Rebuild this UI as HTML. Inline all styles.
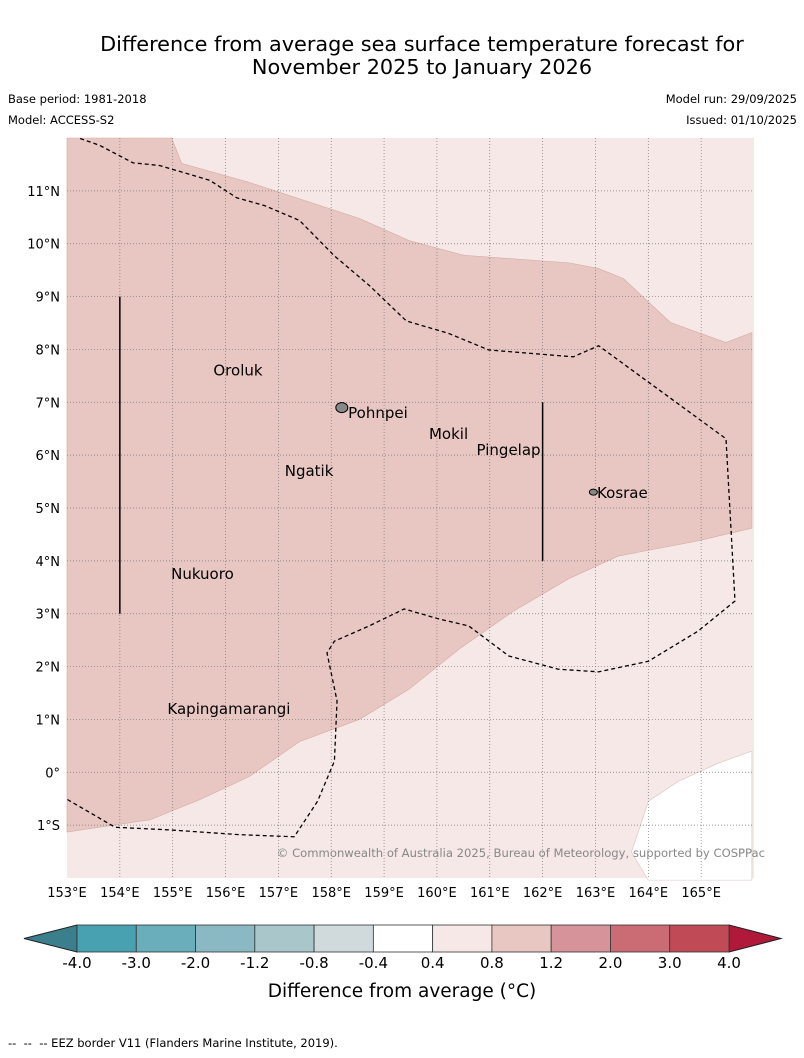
<!DOCTYPE html>
<html><head><meta charset="utf-8"><style>
body{margin:0;background:#fff;width:804px;height:1058px;overflow:hidden;font-family:"DejaVu Sans","Liberation Sans",sans-serif}
svg{position:absolute;left:0;top:0}
</style></head><body>
<svg id="s" width="804" height="1058">
<text x="422" y="51" text-anchor="middle" font-size="20.8">Difference from average sea surface temperature forecast for</text>
<text x="422" y="74" text-anchor="middle" font-size="20.8">November 2025 to January 2026</text>
<text x="8" y="103" font-size="11.5">Base period: 1981-2018</text>
<text x="8" y="124" font-size="11.5">Model: ACCESS-S2</text>
<text x="797" y="103" font-size="11.5" text-anchor="end">Model run: 29/09/2025</text>
<text x="797" y="124" font-size="11.5" text-anchor="end">Issued: 01/10/2025</text>
<g id="map"></g>
<g id="cb"></g>
<text x="402" y="997" text-anchor="middle" font-size="18.5">Difference from average (°C)</text>
<text x="8" y="1047" font-size="11.5" xml:space="preserve">--  --  -- EEZ border V11 (Flanders Marine Institute, 2019).</text>
</svg>
<script>
const lonTicks=[153,154,155,156,157,158,159,160,161,162,163,164,165];
const latTicks=[11,10,9,8,7,6,5,4,3,2,1,0,-1];
const latLabels=["11°N","10°N","9°N","8°N","7°N","6°N","5°N","4°N","3°N","2°N","1°N","0°","1°S"];
const band08Lon=[154.98,155.17,156.45,158.53,159.47,160.51,161.92,162.49,163.06,163.53,164.42,165.47,165.96,165.96,164.94,163.43,162.49,161.45,160.42,159.47,158.53,157.40,156.45,155.51,154.57,153.0,153.0];
const band08Lat=[12.0,11.52,11.16,10.48,10.06,9.78,9.68,9.64,9.53,9.34,8.51,8.13,8.32,4.62,4.38,4.09,3.66,3.05,2.33,1.57,1.00,0.58,-0.08,-0.52,-0.90,-1.13,12.0];
const whiteLon=[165.96,165.32,164.57,164.0,163.81,163.68,164.0,165.96];
const whiteLat=[0.40,0.17,-0.17,-0.55,-1.13,-1.51,-2.04,-2.04];
const eezLon=[153.25,153.62,154.25,154.75,155.70,156.21,156.74,157.40,158.06,158.72,159.42,160.23,160.98,162.58,163.06,165.47,165.64,164.94,164.0,163.06,162.30,161.36,160.60,160.04,159.38,158.72,158.06,157.92,158.11,158.06,157.74,157.30,156.26,154.94,153.91,153.0];
const eezLat=[11.99,11.86,11.53,11.48,11.20,10.87,10.72,10.44,9.77,9.21,8.54,8.30,7.99,7.86,8.07,6.31,3.24,2.67,2.10,1.90,1.95,2.20,2.77,2.90,3.09,2.77,2.48,2.26,1.35,0.21,-0.55,-1.22,-1.18,-1.09,-1.04,-0.51];
const places=["Oroluk","Pohnpei","Mokil","Ngatik","Pingelap","Kosrae","Nukuoro","Kapingamarangi"];
const placeLon=[155.77,158.32,159.85,157.12,160.75,163.03,154.97,154.9];
const placeLat=[7.6,6.8,6.4,5.7,6.1,5.28,3.75,1.2];
const cbLabels=["-4.0","-3.0","-2.0","-1.2","-0.8","-0.4","0.4","0.8","1.2","2.0","3.0","4.0"];
const cbColors=["#48a1b1","#6aaebc","#8bb9c3","#a9c6ca","#d0d9db","#ffffff","#f5e8e6","#e8c6c1","#d6939a","#cb6c75","#c04a56"];

const NS="http://www.w3.org/2000/svg";
const X0=67,X1=754,Y0=138,Y1=878,LON0=153,LON1=166,LAT0=12,LAT1=-2;
const px=l=>X0+(l-LON0)/(LON1-LON0)*(X1-X0);
const py=l=>Y0+(LAT0-l)/(LAT0-LAT1)*(Y1-Y0);
function mk(tag,attrs,parent){const e=document.createElementNS(NS,tag);for(const k in attrs)e.setAttribute(k,attrs[k]);parent.appendChild(e);return e;}
const map=document.getElementById('map');
const pts=(lo,la)=>lo.map((v,i)=>px(v)+','+py(la[i])).join(' ');
let bg=mk('rect',{x:X0,y:Y0,width:X1-X0,height:Y1-Y0,fill:'#f5e8e6'},map);


let b=mk('polygon',{points:pts(band08Lon,band08Lat),fill:'#e8c7c2',stroke:'#d4aaa4','stroke-width':0.6},map);


let w=mk('polygon',{points:pts(whiteLon,whiteLat),fill:'#fff',stroke:'#d8c4c1','stroke-width':0.6},map);


lonTicks.forEach(l=>{
  if(l>LON0){let g=mk('line',{x1:px(l),x2:px(l),y1:Y0,y2:Y1,stroke:'#777','stroke-width':0.7,'stroke-dasharray':'1,2'},map);
  
  }
  let t=mk('text',{x:px(l),y:897,'text-anchor':'middle','font-size':13},map);t.textContent=l+'°E';
  
  
});
latTicks.forEach((l,i)=>{
  let g=mk('line',{x1:X0,x2:X1,y1:py(l),y2:py(l),stroke:'#777','stroke-width':0.7,'stroke-dasharray':'1,2'},map);
  
  
  let t=mk('text',{x:60,y:py(l)+5,'text-anchor':'end','font-size':13},map);t.textContent=latLabels[i];
  
  
});
let e=mk('polyline',{points:pts(eezLon,eezLat),fill:'none',stroke:'#000','stroke-width':1.3,'stroke-dasharray':'4,3'},map);


[[154,9,3],[162,7,4]].forEach(v=>{let l=mk('line',{x1:px(v[0]),x2:px(v[0]),y1:py(v[1]),y2:py(v[2]),stroke:'#000','stroke-width':1.5},map);

});
[[158.2,6.9,5],[162.96,5.3,3]].forEach(v=>{let c=mk('ellipse',{cx:px(v[0]),cy:py(v[1]),rx:v[2]+1,ry:v[2],fill:'#888',stroke:'#000','stroke-width':1},map);

});
places.forEach((p,i)=>{let t=mk('text',{x:px(placeLon[i]),y:py(placeLat[i])+5,'font-size':15},map);t.textContent=p;

});
let c=mk('text',{x:765,y:857,'text-anchor':'end','font-size':11.6,fill:'#888'},map);c.textContent='© Commonwealth of Australia 2025, Bureau of Meteorology, supported by COSPPac';


const cb=document.getElementById('cb');
const CX0=77,CX1=729,CY=925,CH=27,bw=(CX1-CX0)/cbColors.length;
let lt=mk('polygon',{points:`24,${CY+CH/2} ${CX0},${CY} ${CX0},${CY+CH}`,fill:'#3a7f8b',stroke:'#222','stroke-width':1},cb);


let rt=mk('polygon',{points:`781,${CY+CH/2} ${CX1},${CY} ${CX1},${CY+CH}`,fill:'#b0193a',stroke:'#222','stroke-width':1},cb);


cbColors.forEach((col,i)=>{let r=mk('rect',{x:CX0+i*bw,y:CY,width:bw,height:CH,fill:col,stroke:'#333','stroke-width':0.8},cb);

});
cbLabels.forEach((t,i)=>{let x=mk('text',{x:CX0+i*bw,y:968,'text-anchor':'middle','font-size':15},cb);x.textContent=t;

});
</script>
</body></html>
